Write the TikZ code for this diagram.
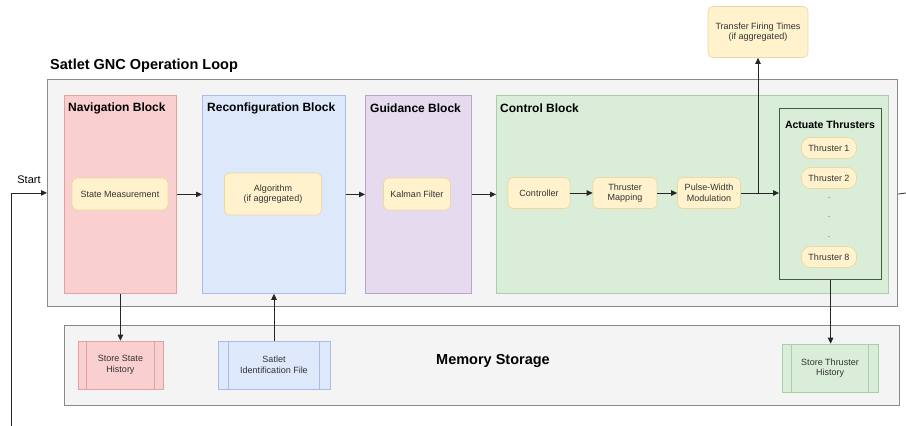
\documentclass[tikz,border=0pt]{standalone}
\usepackage{fontspec}
\setmainfont{Liberation Sans}
\usetikzlibrary{arrows.meta, positioning, calc}

\definecolor{loopfill}{HTML}{F4F4F4}
\definecolor{loopline}{HTML}{8A8A8A}
\definecolor{navfill}{HTML}{F9CFCF}
\definecolor{navline}{HTML}{E3A2A2}
\definecolor{recfill}{HTML}{DDE8FB}
\definecolor{recline}{HTML}{A9BBE6}
\definecolor{guifill}{HTML}{E5DAEE}
\definecolor{guiline}{HTML}{BBA4CC}
\definecolor{ctlfill}{HTML}{D9EDD9}
\definecolor{ctlline}{HTML}{AACDAA}
\definecolor{actline}{HTML}{3E5E3E}
\definecolor{procfill}{HTML}{FFF2CC}
\definecolor{procline}{HTML}{EBD9A0}

\begin{document}
\begin{tikzpicture}[x=1pt, y=-1pt,
  blk/.style={draw, anchor=north west, inner sep=0pt, line width=0.8pt},
  ttl/.style={anchor=west, inner sep=0pt, font=\fontsize{12}{14}\selectfont\bfseries},
  proc/.style={draw=procline, fill=procfill, rounded corners=5pt, align=center,
    inner sep=1pt, line width=0.7pt, text=black!80, font=\fontsize{9}{10.5}\selectfont},
  thr/.style={proc, rounded corners=9pt, minimum width=55pt, minimum height=21pt},
  memproc/.style={draw, align=center, minimum height=48pt, line width=0.7pt,
    text=black!80, font=\fontsize{9}{10.5}\selectfont},
  link/.style={-{Triangle[length=6pt, width=5.5pt]}, line width=0.8pt, draw=black!85}]
  \useasboundingbox (0,0) rectangle (906,426);

  \node[blk, draw=loopline, fill=loopfill, minimum width=850pt, minimum height=227pt] (loop) at (47,79) {};
  \node[anchor=west, inner sep=0pt, font=\fontsize{14.5}{17}\selectfont\bfseries] (looptitle) at (50,66) {Satlet GNC Operation Loop};

  \node[blk, draw=navline, fill=navfill, minimum width=112pt, minimum height=198pt] (nav) at (64,95) {};
  \node[blk, draw=recline, fill=recfill, minimum width=143pt, minimum height=198pt] (rec) at (202,95) {};
  \node[blk, draw=guiline, fill=guifill, minimum width=106pt, minimum height=198pt] (gui) at (365,95) {};
  \node[blk, draw=ctlline, fill=ctlfill, minimum width=392pt, minimum height=198pt] (ctl) at (496,95) {};
  \node[blk, draw=actline, fill=ctlfill, line width=1.2pt, minimum width=102pt, minimum height=171pt] (act) at (779,108) {};

  \node[ttl] (navtitle) at (68,108) {Navigation Block};
  \node[ttl] (rectitle) at (207,108) {Reconfiguration Block};
  \node[ttl] (guititle) at (370,108) {Guidance Block};
  \node[ttl] (ctltitle) at (500,108) {Control Block};
  \node[font=\fontsize{10.5}{12}\selectfont\bfseries, inner sep=0pt] (acttitle) at (830,125) {Actuate Thrusters};

  \node[proc, minimum width=96pt, minimum height=32pt] (meas) at (120,194) {State Measurement};
  \node[proc, minimum width=97pt, minimum height=42pt] (algo) at (273,194) {Algorithm\\(if aggregated)};
  \node[proc, minimum width=67pt, minimum height=32pt] (kal) at (417,194) {Kalman Filter};
  \node[proc, minimum width=62pt, minimum height=31pt] (ctrl) at (539,193) {Controller};
  \node[proc, minimum width=64pt, minimum height=31pt] (map) at (625,193) {Thruster\\Mapping};
  \node[proc, minimum width=63pt, minimum height=31pt] (pwm) at (709,193) {Pulse-Width\\Modulation};
  \node[proc, minimum width=100pt, minimum height=51pt] (tft) at (758,32) {Transfer Firing Times\\(if aggregated)};

  \node[thr] (thr1) at (829,148) {Thruster 1};
  \node[thr] (thr2) at (829,178) {Thruster 2};
  \foreach \y in {198,217,237}
    \node[inner sep=0pt, font=\scriptsize] (dot\y) at (829,\y) {.};
  \node[thr] (thr8) at (829,257) {Thruster 8};

  \node[blk, draw=loopline, fill=loopfill, minimum width=835pt, minimum height=80pt] (mem) at (64,325) {};
  \node[font=\fontsize{14.5}{17}\selectfont\bfseries] (memtitle) at (493,361) {Memory Storage};

  \node[memproc, draw=navline, fill=navfill, minimum width=85pt] (ssh) at (120.5,365) {Store State\\History};
  \node[memproc, draw=recline, fill=recfill, minimum width=112pt] (sif) at (274,365) {Satlet\\Identification File};
  \node[memproc, draw=ctlline, fill=ctlfill, minimum width=96pt] (sth) at (830,368) {Store Thruster\\History};
  \draw[navline, line width=0.7pt] ([xshift=9pt]ssh.north west) -- ([xshift=9pt]ssh.south west)
    ([xshift=-9pt]ssh.north east) -- ([xshift=-9pt]ssh.south east);
  \draw[recline, line width=0.7pt] ([xshift=11pt]sif.north west) -- ([xshift=11pt]sif.south west)
    ([xshift=-11pt]sif.north east) -- ([xshift=-11pt]sif.south east);
  \draw[ctlline, line width=0.7pt] ([xshift=10pt]sth.north west) -- ([xshift=10pt]sth.south west)
    ([xshift=-10pt]sth.north east) -- ([xshift=-10pt]sth.south east);

  \coordinate (startB) at (11,426);
  \coordinate (exitR) at (906,193);
  \node[font=\fontsize{11}{13}\selectfont] (start) at (29,180) {Start};
  \draw[link] (startB) |- (loop.west);

  \draw[link] (nav.east) -- (rec.west);
  \draw[link] (rec.east) -- (gui.west);
  \draw[link] (gui.east) -- (ctl.west |- gui.east);
  \draw[link] (ctrl) -- (map);
  \draw[link] (map) -- (pwm);
  \draw[link] (pwm.east) -- (act.west |- pwm.east);
  \coordinate (branch) at (pwm.east -| tft.south);
  \draw[link] (branch) -- (tft.south);
  \draw[line width=0.8pt, black!85] (loop.east |- act.east) -- (exitR);

  \draw[link] (nav.south) -- (nav.south |- ssh.north);
  \draw[link] (sif.north) -- (sif.north |- rec.south);
  \draw[link] (act.south) -- (act.south |- sth.north);
\end{tikzpicture}
\end{document}
